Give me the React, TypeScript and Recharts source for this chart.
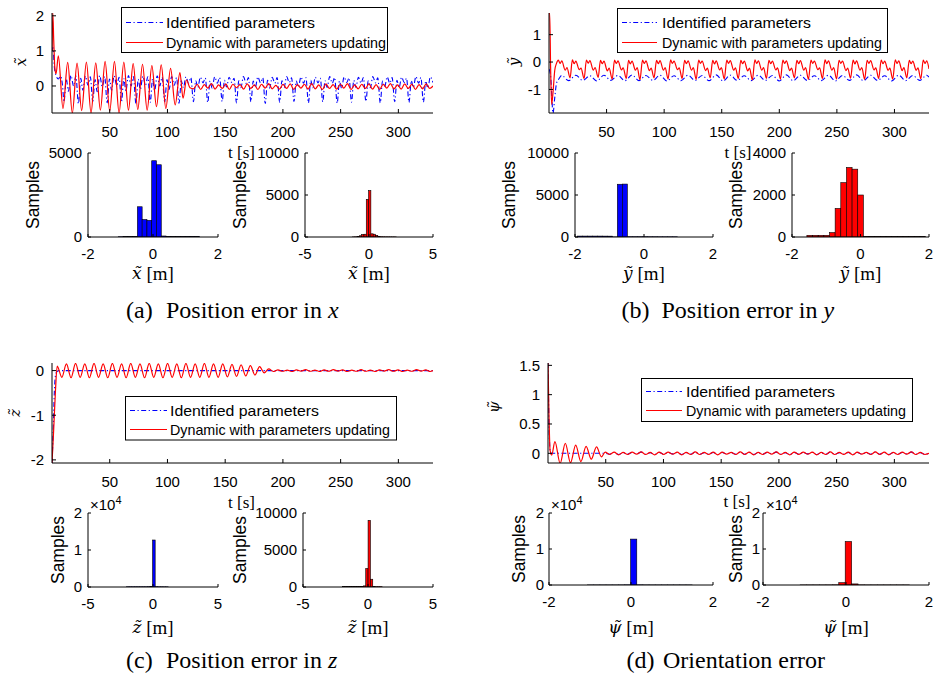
import React from "react";
import { Bar, ComposedChart, Line, LineChart, XAxis, YAxis } from "recharts";

type Pt = [number, number];

// ---- time axis ----
const T_TICKS = [50, 100, 150, 200, 250, 300];

// ---- (a) position error in x ----
const aRed: Pt[] = [
  [0, 1.0], [0.7, 2.08], [1.5, 1.3], [2.5, 0.5], [3.5, 0.35],
  [5.5, 0.86], [9.5, -0.64], [13.6, 0.67], [17.6, -0.77], [21.7, 0.65], [25.7, -0.7],
  [29.8, 0.68], [33.8, -0.77], [37.9, 0.66], [41.9, -0.69], [46.0, 0.7], [50.0, -0.72],
  [54.1, 0.7], [58.1, -0.77], [62.2, 0.68], [66.2, -0.69], [70.3, 0.64], [74.3, -0.67],
  [78.4, 0.62], [82.4, -0.69], [86.5, 0.58], [90.5, -0.59], [94.6, 0.6], [98.6, -0.64],
  [102.7, 0.5], [106.7, -0.54], [110.8, 0.38], [113.5, -0.35], [116.5, 0.17], [119.5, -0.05],
  [122.6, -0.08], [125.7, 0.05], [128.8, -0.1], [131.9, 0.04], [135.0, -0.06], [138.1, 0.07],
  [141.2, -0.09], [144.3, 0.03], [147.4, -0.07], [150.5, 0.06], [153.6, -0.1], [156.7, 0.05],
  [159.8, -0.05], [162.9, 0.04], [166.0, -0.09], [169.1, 0.06], [172.2, -0.07], [175.3, 0.03],
  [178.4, -0.1], [181.5, 0.05], [184.6, -0.06], [187.7, 0.07], [190.8, -0.08], [193.9, 0.02],
  [197.0, -0.09], [200.1, 0.05], [203.2, -0.07], [206.3, 0.06], [209.4, -0.1], [212.5, 0.04],
  [215.6, -0.06], [218.7, 0.05], [221.8, -0.09], [224.9, 0.07], [228.0, -0.08], [231.1, 0.03],
  [234.2, -0.1], [237.3, 0.06], [240.4, -0.07], [243.5, 0.04], [246.6, -0.09], [249.7, 0.05],
  [252.8, -0.06], [255.9, 0.07], [259.0, -0.1], [262.1, 0.03], [265.2, -0.08], [268.3, 0.05],
  [271.4, -0.07], [274.5, 0.06], [277.6, -0.09], [280.7, 0.04], [283.8, -0.1], [286.9, 0.05],
  [290.0, -0.06], [293.1, 0.07], [296.2, -0.08], [299.3, 0.03], [302.4, -0.09], [305.5, 0.06],
  [308.6, -0.07], [311.7, 0.05], [314.8, -0.1], [317.9, 0.04], [321.0, -0.08], [324.1, 0.06],
  [327.2, -0.07], [330, 0.0],
];

const aBlue: Pt[] = [
  [0, 1.0], [0.8, 1.1], [2, 0.55], [3.5, 0.3], [5.5, 0.2], [7.5, 0.28], [9, 0.05],
  [10.4, -0.45], [12.4, 0.2], [14.2, -0.15], [16.4, 0.3], [18.7, 0.0], [20.7, 0.28],
  [22.9, -0.5], [24.9, 0.22], [26.7, -0.12], [28.9, 0.28], [31.2, 0.02], [33.2, 0.26],
  [35.3, -0.44], [37.3, 0.18], [39.1, -0.16], [41.3, 0.3], [43.6, -0.02], [45.6, 0.27],
  [47.8, -0.48], [49.8, 0.2], [51.6, -0.12], [53.8, 0.29], [56.1, 0.01], [58.1, 0.25],
  [60.2, -0.46], [62.2, 0.21], [64.0, -0.14], [66.2, 0.3], [68.5, 0.0], [70.5, 0.27],
  [72.7, -0.5], [74.7, 0.19], [76.5, -0.1], [78.7, 0.28], [81.0, 0.03], [83.0, 0.26],
  [85.1, -0.47], [87.1, 0.2], [88.9, -0.13], [91.1, 0.29], [93.4, 0.0], [95.4, 0.25],
  [97.6, -0.45], [99.6, 0.18], [101.4, -0.1], [103.6, 0.27], [105.9, 0.02], [107.9, 0.24],
  [110.0, -0.49], [112.0, 0.15], [113.8, -0.05], [116.0, 0.26], [118.3, 0.08], [120.3, 0.24],
  [122.5, -0.45], [124.5, 0.15], [126.3, -0.04], [128.5, 0.25], [130.8, 0.09], [132.8, 0.23],
  [134.9, -0.47], [136.9, 0.14], [138.7, -0.06], [140.9, 0.26], [143.2, 0.08], [145.2, 0.24],
  [147.4, -0.44], [149.4, 0.16], [151.2, -0.03], [153.4, 0.25], [155.7, 0.1], [157.7, 0.22],
  [159.8, -0.48], [161.8, 0.15], [163.6, -0.05], [165.8, 0.27], [168.1, 0.08], [170.1, 0.24],
  [172.3, -0.45], [174.3, 0.14], [176.1, -0.04], [178.3, 0.26], [180.6, 0.09], [182.6, 0.23],
  [184.7, -0.5], [186.7, 0.16], [188.5, -0.06], [190.7, 0.25], [193.0, 0.08], [195.0, 0.24],
  [197.2, -0.46], [199.2, 0.15], [201.0, -0.05], [203.2, 0.27], [205.5, 0.1], [207.5, 0.23],
  [209.6, -0.44], [211.6, 0.14], [213.4, -0.03], [215.6, 0.26], [217.9, 0.08], [219.9, 0.24],
  [222.1, -0.48], [224.1, 0.16], [225.9, -0.05], [228.1, 0.25], [230.4, 0.09], [232.4, 0.22],
  [234.5, -0.45], [236.5, 0.15], [238.3, -0.04], [240.5, 0.27], [242.8, 0.08], [244.8, 0.24],
  [247.0, -0.49], [249.0, 0.14], [250.8, -0.06], [253.0, 0.26], [255.3, 0.1], [257.3, 0.23],
  [259.4, -0.46], [261.4, 0.16], [263.2, -0.04], [265.4, 0.25], [267.7, 0.08], [269.7, 0.24],
  [271.9, -0.44], [273.9, 0.15], [275.7, -0.05], [277.9, 0.27], [280.2, 0.09], [282.2, 0.23],
  [284.3, -0.48], [286.3, 0.14], [288.1, -0.03], [290.3, 0.26], [292.6, 0.08], [294.6, 0.24],
  [296.8, -0.45], [298.8, 0.16], [300.6, -0.05], [302.8, 0.25], [305.1, 0.1], [307.1, 0.22],
  [309.2, -0.47], [311.2, 0.15], [313.0, -0.04], [315.2, 0.27], [317.5, 0.08], [319.5, 0.24],
  [321.7, -0.46], [323.7, 0.14], [325.5, -0.06], [327.7, 0.26], [330, 0.1],
];

// ---- (b) position error in y ----
const bRed: Pt[] = [
  [0, 1.79], [0.6, 1.79], [1.4, -0.2], [2.3, -1.55], [3.5, -1.1], [5, -0.3], [6.5, -0.05],
  [8.1, 0.07], [9.6, -0.05], [11.1, 0.04], [14.1, -0.3], [15.6, -0.2], [18.3, -0.58],
  [20.3, 0.08], [21.8, -0.06], [23.3, 0.03], [26.3, -0.28], [27.8, -0.22], [30.5, -0.6],
  [32.5, 0.07], [34.0, -0.04], [35.5, 0.05], [38.5, -0.3], [40.0, -0.2], [42.7, -0.56],
  [44.7, 0.06], [46.2, -0.06], [47.7, 0.03], [50.7, -0.32], [52.2, -0.22], [54.9, -0.62],
  [56.9, 0.07], [58.4, -0.05], [59.9, 0.04], [62.9, -0.29], [64.4, -0.21], [67.1, -0.6],
  [69.1, 0.06], [70.6, -0.07], [72.1, 0.03], [75.1, -0.3], [76.6, -0.2], [79.0, -0.64],
  [81.2, 0.07], [82.7, -0.05], [84.2, 0.04], [87.2, -0.31], [88.7, -0.22], [91.2, -0.58],
  [93.4, 0.06], [94.9, -0.06], [96.4, 0.05], [99.4, -0.3], [100.9, -0.2], [103.4, -0.62],
  [105.6, 0.08], [107.1, -0.05], [108.6, 0.03], [111.6, -0.28], [113.1, -0.21], [115.6, -0.6],
  [117.8, 0.06], [119.3, -0.06], [120.8, 0.04], [123.8, -0.3], [125.3, -0.2], [127.8, -0.63],
  [130.0, 0.07], [131.5, -0.05], [133.0, 0.03], [136.0, -0.31], [137.5, -0.22], [140.0, -0.58],
  [142.2, 0.06], [143.7, -0.07], [145.2, 0.04], [148.2, -0.29], [149.7, -0.2], [152.2, -0.62],
  [154.4, 0.07], [155.9, -0.05], [157.4, 0.05], [160.4, -0.3], [161.9, -0.21], [164.4, -0.6],
  [166.6, 0.06], [168.1, -0.06], [169.6, 0.03], [172.6, -0.32], [174.1, -0.22], [176.6, -0.65],
  [178.8, 0.08], [180.3, -0.05], [181.8, 0.04], [184.8, -0.3], [186.3, -0.2], [188.8, -0.6],
  [191.0, 0.06], [192.5, -0.06], [194.0, 0.03], [197.0, -0.29], [198.5, -0.21], [201.0, -0.62],
  [203.1, 0.07], [204.6, -0.05], [206.1, 0.04], [209.1, -0.31], [210.6, -0.22], [213.1, -0.58],
  [215.3, 0.06], [216.8, -0.06], [218.3, 0.05], [221.3, -0.3], [222.8, -0.2], [225.3, -0.63],
  [227.5, 0.07], [229.0, -0.05], [230.5, 0.03], [233.5, -0.28], [235.0, -0.21], [237.5, -0.6],
  [239.7, 0.08], [241.2, -0.06], [242.7, 0.04], [245.7, -0.3], [247.2, -0.2], [249.7, -0.62],
  [251.9, 0.06], [253.4, -0.05], [254.9, 0.03], [257.9, -0.31], [259.4, -0.22], [261.9, -0.59],
  [264.1, 0.07], [265.6, -0.07], [267.1, 0.04], [270.1, -0.3], [271.6, -0.2], [274.1, -0.63],
  [276.3, 0.06], [277.8, -0.05], [279.3, 0.05], [282.3, -0.29], [283.8, -0.21], [286.3, -0.6],
  [288.5, 0.07], [290.0, -0.06], [291.5, 0.03], [294.5, -0.3], [296.0, -0.22], [298.5, -0.62],
  [300.7, 0.08], [302.2, -0.05], [303.7, 0.04], [306.7, -0.31], [308.2, -0.2], [310.7, -0.58],
  [312.9, 0.06], [314.4, -0.06], [315.9, 0.03], [318.9, -0.3], [320.4, -0.21], [322.9, -0.61],
  [325.0, 0.07], [326.5, -0.05], [328.0, 0.04], [330, -0.25],
];

const bBlue: Pt[] = [
  [0, -0.25], [1.5, -0.55], [3.5, -1.86], [5, -1.3], [6.5, -0.78], [8.5, -0.62],
  [11.1, -0.49], [17.1, -0.68], [23.3, -0.48], [29.3, -0.67], [35.5, -0.5], [41.5, -0.69],
  [47.7, -0.48], [53.7, -0.67], [59.9, -0.49], [65.9, -0.68], [72.1, -0.47], [78.1, -0.68],
  [84.2, -0.49], [90.2, -0.67], [96.4, -0.48], [102.4, -0.69], [108.6, -0.5], [114.6, -0.68],
  [120.8, -0.48], [126.8, -0.67], [133.0, -0.49], [139.0, -0.68], [145.2, -0.47], [151.2, -0.69],
  [157.4, -0.48], [163.4, -0.67], [169.6, -0.5], [175.6, -0.68], [181.8, -0.48], [187.8, -0.67],
  [194.0, -0.49], [200.0, -0.69], [206.1, -0.47], [212.1, -0.68], [218.3, -0.48], [224.3, -0.67],
  [230.5, -0.5], [236.5, -0.68], [242.7, -0.48], [248.7, -0.69], [254.9, -0.49], [260.9, -0.67],
  [267.1, -0.47], [273.1, -0.68], [279.3, -0.48], [285.3, -0.67], [291.5, -0.5], [297.5, -0.69],
  [303.7, -0.48], [309.7, -0.68], [315.9, -0.49], [321.9, -0.67], [328.0, -0.48], [330, -0.55],
];

// ---- (c) position error in z ----
const cRed: Pt[] = [
  [0, -2.07], [1.5, -1.3], [3, -0.45], [4.5, 0.1],
  [8.5, -0.15], [12.5, 0.15], [16.5, -0.16], [20.4, 0.16], [24.4, -0.15], [28.4, 0.15],
  [32.4, -0.16], [36.4, 0.16], [40.3, -0.15], [44.3, 0.15], [48.3, -0.16], [52.3, 0.16],
  [56.3, -0.15], [60.3, 0.15], [64.2, -0.16], [68.2, 0.16], [72.2, -0.15], [76.2, 0.15],
  [80.2, -0.16], [84.2, 0.16], [88.1, -0.15], [92.1, 0.15], [96.1, -0.16], [100.1, 0.16],
  [104.1, -0.15], [108.1, 0.15], [112.0, -0.16], [116.0, 0.16], [120.0, -0.15], [124.0, 0.15],
  [128.0, -0.15], [132.0, 0.16], [135.9, -0.15], [139.9, 0.15], [143.9, -0.15], [147.9, 0.15],
  [151.9, -0.14], [155.9, 0.14], [159.8, -0.13], [163.8, 0.13], [167.8, -0.12], [171.8, 0.11],
  [175.8, -0.1], [179.8, 0.09], [183.8, -0.05], [187.7, 0.04], [191.7, -0.02],
  [195.7, 0.015], [199.7, -0.015], [203.7, 0.01], [207.7, -0.02], [211.7, 0.015], [215.7, -0.01],
  [219.7, 0.02], [223.7, -0.015], [227.7, 0.01], [231.7, -0.02], [235.7, 0.015], [239.7, -0.015],
  [243.7, 0.02], [247.7, -0.01], [251.7, 0.015], [255.7, -0.02], [259.7, 0.01], [263.7, -0.015],
  [267.7, 0.02], [271.7, -0.015], [275.7, 0.01], [279.7, -0.02], [283.7, 0.015], [287.7, -0.01],
  [291.7, 0.02], [295.7, -0.015], [299.7, 0.015], [303.7, -0.02], [307.7, 0.01], [311.7, -0.015],
  [315.7, 0.02], [319.7, -0.01], [323.7, 0.015], [327.7, -0.02], [330, 0.0],
];

const cBlue: Pt[] = [
  [0, -2.07], [1, -1.4], [2, -0.5], [2.8, -0.15], [4, -0.03], [6, 0], [330, 0],
];

// ---- (d) orientation error ----
const dRedHead: Pt[] = [
  [0, 1.54], [0.8, 0.7], [1.8, 0.05], [3.2, -0.03], [6, 0.2], [10.5, -0.17], [15, 0.17],
  [19.5, -0.16], [24, 0.14], [28.5, -0.14], [33, 0.12], [37.5, -0.1], [42, 0.11],
  [46.3, -0.06], [49.5, 0.02],
];
const dBlueHead: Pt[] = [[0, 1.54], [1, 0.4], [2, 0.02], [3, 0.0], [49.5, 0.0]];
const dTailT = [
  53.4, 57.3, 61.2, 65.1, 69.0, 72.9,
  76.8, 80.7, 84.6, 88.5, 92.4, 96.3,
  100.2, 104.1, 108.0, 111.9, 115.8, 119.7,
  123.6, 127.5, 131.4, 135.3, 139.2, 143.1,
  147.0, 150.9, 154.8, 158.7, 162.6, 166.5,
  170.4, 174.3, 178.2, 182.1, 186.0, 189.9,
  193.8, 197.7, 201.6, 205.5, 209.4, 213.3,
  217.2, 221.1, 225.0, 228.9, 232.8, 236.7,
  240.6, 244.5, 248.4, 252.3, 256.2, 260.1,
  264.0, 267.9, 271.8, 275.7, 279.6, 283.5,
  287.4, 291.3, 295.2, 299.1, 303.0, 306.9,
  310.8, 314.7, 318.6, 322.5, 326.4, 330.0,
];
const dRedTailV = [
  -0.02, 0.02, -0.025, 0.015, -0.02, 0.02,
  -0.015, 0.025, -0.02, 0.015, -0.025, 0.02,
  -0.02, 0.02, -0.015, 0.02, -0.025, 0.015,
  -0.02, 0.025, -0.02, 0.015, -0.02, 0.02,
  -0.025, 0.02, -0.015, 0.015, -0.02, 0.025,
  -0.02, 0.02, -0.025, 0.015, -0.02, 0.02,
  -0.015, 0.025, -0.02, 0.015, -0.025, 0.02,
  -0.02, 0.02, -0.015, 0.02, -0.025, 0.015,
  -0.02, 0.025, -0.02, 0.015, -0.02, 0.02,
  -0.025, 0.02, -0.015, 0.015, -0.02, 0.025,
  -0.02, 0.02, -0.025, 0.015, -0.02, 0.02,
  -0.015, 0.025, -0.02, 0.015, -0.02, 0.0,
];
const dBlueTailV = [
  -0.015, 0.015, -0.02, 0.01, -0.015, 0.015,
  -0.01, 0.02, -0.015, 0.01, -0.02, 0.015,
  -0.015, 0.015, -0.01, 0.015, -0.02, 0.01,
  -0.015, 0.02, -0.015, 0.01, -0.015, 0.015,
  -0.02, 0.015, -0.01, 0.01, -0.015, 0.02,
  -0.015, 0.015, -0.02, 0.01, -0.015, 0.015,
  -0.01, 0.02, -0.015, 0.01, -0.02, 0.015,
  -0.015, 0.015, -0.01, 0.015, -0.02, 0.01,
  -0.015, 0.02, -0.015, 0.01, -0.015, 0.015,
  -0.02, 0.015, -0.01, 0.01, -0.015, 0.02,
  -0.015, 0.015, -0.02, 0.01, -0.015, 0.015,
  -0.01, 0.02, -0.015, 0.01, -0.015, 0.0,
];

// ---- histograms: bin centres and sample counts ----
const aHistBlueX = [-0.998, -0.851, -0.704, -0.557, -0.41, -0.263, -0.116, 0.031, 0.178, 0.325, 0.472, 0.619, 0.766, 0.913, 1.06, 1.207, 1.354];
const aHistBlueN = [15, 18, 20, 22, 1800, 1040, 990, 4540, 4300, 60, 30, 25, 25, 30, 35, 35, 30];
const aHistRedX = [-1.21, -1.03, -0.85, -0.67, -0.49, -0.31, -0.13, 0.05, 0.23, 0.41, 0.59, 0.77, 0.95, 1.13, 1.31, 1.49, 1.67, 1.85, 2.03];
const aHistRedN = [10, 20, 60, 150, 300, 330, 4480, 5520, 380, 330, 200, 60, 30, 20, 15, 15, 10, 10, 10];

const bHistBlueX = [-1.86, -1.715, -1.57, -1.425, -1.28, -1.135, -0.99, -0.845, -0.7, -0.555, -0.41, -0.265, -0.12, 0.025, 0.17, 0.315, 0.46, 0.605, 0.75, 0.895];
const bHistBlueN = [110, 110, 110, 110, 110, 105, 100, 5, 6280, 6300, 30, 30, 30, 30, 25, 25, 20, 20, 20, 20];
const bHistRedX = [-1.49, -1.325, -1.16, -0.995, -0.83, -0.665, -0.5, -0.335, -0.17, -0.005, 0.16, 0.325, 0.49, 0.655, 0.82, 0.985, 1.15, 1.315, 1.48, 1.645, 1.81];
const bHistRedN = [80, 80, 80, 80, 210, 1360, 2590, 3310, 3230, 2000, 20, 20, 20, 15, 15, 15, 15, 15, 15, 15, 15];

const cHistBlueX = [-1.93, -1.73, -1.53, -1.33, -1.13, -0.93, -0.73, -0.53, -0.33, -0.13, 0.07, 0.27, 0.47, 0.67, 0.87, 1.07];
const cHistBlueN = [60, 60, 60, 60, 60, 60, 60, 60, 80, 150, 12700, 80, 50, 50, 40, 40];
const cHistRedX = [-1.89, -1.71, -1.53, -1.35, -1.17, -0.99, -0.81, -0.63, -0.45, -0.27, -0.09, 0.09, 0.27, 0.45, 0.63, 0.81, 0.99];
const cHistRedN = [50, 50, 50, 50, 50, 50, 50, 60, 80, 150, 2500, 9000, 1050, 60, 40, 40, 40];

const dHistBlueX = [-0.985, -0.835, -0.685, -0.535, -0.385, -0.235, -0.085, 0.065, 0.215, 0.365, 0.515, 0.665, 0.815, 0.965, 1.115, 1.265, 1.415];
const dHistBlueN = [15, 15, 15, 15, 15, 20, 40, 12750, 40, 20, 15, 15, 15, 15, 15, 15, 15];
const dHistRedX = [-1.025, -0.87, -0.715, -0.56, -0.405, -0.25, -0.095, 0.06, 0.215, 0.37, 0.525, 0.68, 0.835, 0.99, 1.145, 1.3, 1.455];
const dHistRedN = [15, 15, 15, 15, 20, 40, 640, 12080, 300, 30, 15, 15, 15, 15, 15, 15, 15];

const LEGEND_LABELS = ["Identified parameters", "Dynamic with parameters updating"];

const SANS = "'Liberation Sans', Arial, Helvetica, sans-serif";
const SERIF = "'Liberation Serif', 'Times New Roman', serif";
const MATH = "'DejaVu Serif', 'Liberation Serif', serif";
const INK = "#000";
const BLUE = "#0000ff";
const RED = "#ff0000";
const TICK = { fontSize: 15, fill: INK, fontFamily: SANS };
const DASHDOT = "5 2.5 1.2 2.5";

const zip = (ts: number[], vs: number[]): Pt[] => ts.map((t, i) => [t, vs[i]] as Pt);
const toRows = (pts: Pt[]) => pts.map(([t, v]) => ({ t, v }));

const dRed = [...dRedHead, ...zip(dTailT, dRedTailV)];
const dBlue = [...dBlueHead, ...zip(dTailT, dBlueTailV)];

type TimeProps = {
  l: number; t: number; w: number; h: number;
  yDomain: [number, number]; yTicks: number[];
  blue: Pt[]; red: Pt[];
};

function TimePlot({ l, t, w, h, yDomain, yTicks, blue, red }: TimeProps) {
  const YW = 50, M = 10, XH = 30;
  return (
    <div style={{ position: "absolute", left: l - YW, top: t - M }}>
      <LineChart width={w + YW + M} height={h + M + XH} margin={{ top: M, right: M, bottom: 0, left: 0 }}>
        <XAxis xAxisId="b" type="number" dataKey="t" domain={[0, 330]} ticks={T_TICKS} interval={0}
          allowDataOverflow height={XH} stroke={INK} tickSize={-4} tickMargin={17} tick={TICK} />
        <XAxis xAxisId="top" orientation="top" type="number" dataKey="t" domain={[0, 330]} ticks={T_TICKS}
          interval={0} allowDataOverflow height={0} stroke={INK} tickSize={-4} tick={false} />
        <YAxis yAxisId="l" type="number" domain={yDomain} ticks={yTicks} interval={0} allowDataOverflow
          width={YW} stroke={INK} tickSize={-4} tickMargin={12} tick={TICK} />
        <YAxis yAxisId="r" orientation="right" type="number" domain={yDomain} ticks={yTicks} interval={0}
          allowDataOverflow width={0} stroke={INK} tickSize={-4} tick={false} />
        <Line xAxisId="b" yAxisId="l" data={toRows(blue)} dataKey="v" type="monotone" stroke={BLUE}
          strokeWidth={1.1} strokeDasharray={DASHDOT} dot={false} activeDot={false} isAnimationActive={false} />
        <Line xAxisId="b" yAxisId="l" data={toRows(red)} dataKey="v" type="monotone" stroke={RED}
          strokeWidth={1.2} dot={false} activeDot={false} isAnimationActive={false} />
      </LineChart>
    </div>
  );
}

type HistProps = {
  l: number; t: number; w: number; h: number;
  xDomain: [number, number]; xTicks: number[];
  yMax: number; yTicks: number[]; sci?: boolean; gap?: number;
  centers: number[]; counts: number[]; binW: number; fill: string;
};

function Hist({ l, t, w, h, xDomain, xTicks, yMax, yTicks, sci, gap = 9, centers, counts, binW, fill }: HistProps) {
  const YW = 70, M = 12, XH = 30;
  const data = centers.map((x, i) => ({ x, n: counts[i] }));
  const barPx = (binW * w) / (xDomain[1] - xDomain[0]);
  const shape = (p: any) => {
    const cx = p.x + p.width / 2;
    return (
      <rect x={cx - barPx / 2} y={p.y} width={barPx} height={Math.max(0, p.height)}
        fill={fill} stroke={INK} strokeWidth={0.6} />
    );
  };
  return (
    <div style={{ position: "absolute", left: l - YW, top: t - M }}>
      <ComposedChart width={w + YW + M} height={h + M + XH} data={data} margin={{ top: M, right: M, bottom: 0, left: 0 }}>
        <XAxis xAxisId="b" type="number" dataKey="x" domain={xDomain} ticks={xTicks} interval={0}
          allowDataOverflow height={XH} stroke={INK} tickSize={-3} tickMargin={14} tick={TICK} />
        <XAxis xAxisId="top" orientation="top" type="number" dataKey="x" domain={xDomain} ticks={xTicks}
          interval={0} allowDataOverflow height={0} stroke={INK} tickSize={-3} tick={false} />
        <YAxis yAxisId="l" type="number" domain={[0, yMax]} ticks={yTicks} interval={0} allowDataOverflow
          width={YW} stroke={INK} tickSize={-3} tickMargin={gap} tick={TICK}
          tickFormatter={sci ? (v: number) => String(v / 10000) : undefined} />
        <YAxis yAxisId="r" orientation="right" type="number" domain={[0, yMax]} ticks={yTicks} interval={0}
          allowDataOverflow width={0} stroke={INK} tickSize={-3} tick={false} />
        <Bar xAxisId="b" yAxisId="l" dataKey="n" fill={fill} shape={shape} isAnimationActive={false} />
      </ComposedChart>
    </div>
  );
}

const LEGENDS = [
  { x: 121.5, y: 7.5, w: 266, h: 45, r1: 22.5, r2: 42.5, s0: 126, s1: 163, tx: 166 },
  { x: 617.5, y: 8.5, w: 270, h: 44, r1: 22.5, r2: 42.5, s0: 622, s1: 657, tx: 662 },
  { x: 125.5, y: 396.5, w: 271, h: 43.5, r1: 410.5, r2: 429.5, s0: 130, s1: 167, tx: 170 },
  { x: 641.5, y: 378.5, w: 271, h: 43, r1: 391.5, r2: 410.5, s0: 646, s1: 682, tx: 686 },
];

function Rot({ x, y, children, size, family, italic }: any) {
  return (
    <text x={x} y={y} transform={`rotate(-90 ${x} ${y})`} textAnchor="middle" dominantBaseline="central"
      fontSize={size} fontFamily={family} fontStyle={italic ? "italic" : "normal"} fill={INK}>
      {children}
    </text>
  );
}

function XLabel({ x, y, sym }: { x: number; y: number; sym: string }) {
  return (
    <text x={x} y={y} textAnchor="middle" dominantBaseline="central" fontSize={19} fontFamily={SERIF} fill={INK}>
      <tspan fontStyle="italic" fontFamily={MATH} fontSize={17}>{sym}</tspan> [m]
    </text>
  );
}

function Sci({ x, y }: { x: number; y: number }) {
  return (
    <text x={x} y={y} fontSize={15} fontFamily={SANS} fill={INK}>
      ×10<tspan fontSize={11} dy={-6}>4</tspan>
    </text>
  );
}

function Caption({ x0, x1, y, tag, text, math }: { x0: number; x1: number; y: number; tag: string; text: string; math?: string }) {
  return (
    <g fontFamily={SERIF} fontSize={24} fill={INK}>
      <text x={x0} y={y}>{tag}</text>
      <text x={x1} y={y}>
        {text}
        {math ? <tspan fontStyle="italic">{math}</tspan> : null}
      </text>
    </g>
  );
}

function Overlay() {
  return (
    <svg width={941} height={678} style={{ position: "absolute", left: 0, top: 0, pointerEvents: "none" }}>
      {LEGENDS.map((g, i) => (
        <g key={i}>
          <rect x={g.x} y={g.y} width={g.w} height={g.h} fill="#fff" stroke={INK} strokeWidth={1} />
          <line x1={g.s0} x2={g.s1} y1={g.r1} y2={g.r1} stroke={BLUE} strokeWidth={1} strokeDasharray={DASHDOT} />
          <line x1={g.s0} x2={g.s1} y1={g.r2} y2={g.r2} stroke={RED} strokeWidth={1} />
          <text x={g.tx} y={g.r1} dominantBaseline="central" fontSize={15} fontFamily={SANS} fill={INK}
            textLength={149} lengthAdjust="spacingAndGlyphs">{LEGEND_LABELS[0]}</text>
          <text x={g.tx} y={g.r2} dominantBaseline="central" fontSize={15} fontFamily={SANS} fill={INK}
            textLength={220} lengthAdjust="spacingAndGlyphs">{LEGEND_LABELS[1]}</text>
        </g>
      ))}

      <Rot x={21} y={62} size={15} family={MATH} italic>{"x\u0303"}</Rot>
      <Rot x={514} y={62} size={15} family={MATH} italic>{"y\u0303"}</Rot>
      <Rot x={15} y={413} size={15} family={MATH} italic>{"z\u0303"}</Rot>
      <Rot x={494} y={407} size={15} family={MATH} italic>{"\u03c8\u0303"}</Rot>

      {[[241.5, 152], [738, 152], [241.5, 502], [737, 501.5]].map(([x, y], i) => (
        <text key={i} x={x} y={y} textAnchor="middle" dominantBaseline="central" fontSize={17} fontFamily={SERIF} fill={INK}>
          t [s]
        </text>
      ))}

      {[[33, 195], [240, 195], [509, 195], [735.5, 195], [57.5, 550], [240, 550], [519, 549], [735.5, 549]].map(([x, y], i) => (
        <Rot key={i} x={x} y={y} size={17.5} family={SANS}>Samples</Rot>
      ))}

      <XLabel x={153} y={273} sym={"x\u0303"} />
      <XLabel x={369} y={273} sym={"x\u0303"} />
      <XLabel x={644} y={273} sym={"y\u0303"} />
      <XLabel x={860.5} y={273} sym={"y\u0303"} />
      <XLabel x={153} y={627} sym={"z\u0303"} />
      <XLabel x={368} y={627} sym={"z\u0303"} />
      <XLabel x={631} y={627} sym={"\u03c8\u0303"} />
      <XLabel x={846} y={627} sym={"\u03c8\u0303"} />

      <Sci x={90} y={510} />
      <Sci x={551} y={510} />
      <Sci x={766} y={510} />

      <Caption x0={126} x1={166} y={318} tag="(a)" text="Position error in " math="x" />
      <Caption x0={621.5} x1={661.5} y={318} tag="(b)" text="Position error in " math="y" />
      <Caption x0={126} x1={166} y={668} tag="(c)" text="Position error in " math="z" />
      <Caption x0={626.5} x1={663} y={668} tag="(d)" text="Orientation error" />
    </svg>
  );
}

export default function App() {
  return (
    <div style={{ position: "absolute", left: 0, top: 0, width: 941, height: 678, background: "#fff", overflow: "hidden" }}>
      <TimePlot l={52} t={13} w={381} h={100} yDomain={[-0.77, 2.08]} yTicks={[0, 1, 2]} blue={aBlue} red={aRed} />
      <TimePlot l={549} t={13} w={380} h={100} yDomain={[-1.86, 1.79]} yTicks={[-1, 0, 1]} blue={bBlue} red={bRed} />
      <TimePlot l={52} t={363} w={381} h={100} yDomain={[-2.07, 0.17]} yTicks={[-2, -1, 0]} blue={cBlue} red={cRed} />
      <TimePlot l={548} t={363} w={381} h={100} yDomain={[-0.165, 1.54]} yTicks={[0, 0.5, 1, 1.5]} blue={dBlue} red={dRed} />

      <Hist l={88} t={153} w={130} h={84} xDomain={[-2, 2]} xTicks={[-2, 0, 2]} yMax={5000} yTicks={[0, 5000]}
        centers={aHistBlueX} counts={aHistBlueN} binW={0.147} fill={BLUE} />
      <Hist l={305} t={153} w={128} h={84} xDomain={[-5, 5]} xTicks={[-5, 0, 5]} yMax={10000} yTicks={[0, 5000, 10000]}
        centers={aHistRedX} counts={aHistRedN} binW={0.18} fill={RED} />
      <Hist l={575} t={153} w={138} h={84} xDomain={[-2, 2]} xTicks={[-2, 0, 2]} yMax={10000} yTicks={[0, 5000, 10000]}
        centers={bHistBlueX} counts={bHistBlueN} binW={0.145} fill={BLUE} />
      <Hist l={792} t={153} w={137} h={84} xDomain={[-2, 2]} xTicks={[-2, 0, 2]} yMax={4000} yTicks={[0, 2000, 4000]}
        centers={bHistRedX} counts={bHistRedN} binW={0.165} fill={RED} />
      <Hist l={88} t={513} w={130} h={74} xDomain={[-5, 5]} xTicks={[-5, 0, 5]} yMax={20000} yTicks={[0, 10000, 20000]} sci
        centers={cHistBlueX} counts={cHistBlueN} binW={0.2} fill={BLUE} />
      <Hist l={303} t={513} w={130} h={74} xDomain={[-5, 5]} xTicks={[-5, 0, 5]} yMax={10000} yTicks={[0, 5000, 10000]}
        centers={cHistRedX} counts={cHistRedN} binW={0.18} fill={RED} />
      <Hist l={549} t={513} w={164} h={72} xDomain={[-2, 2]} xTicks={[-2, 0, 2]} yMax={20000} yTicks={[0, 10000, 20000]} sci gap={8}
        centers={dHistBlueX} counts={dHistBlueN} binW={0.15} fill={BLUE} />
      <Hist l={763} t={513} w={166} h={72} xDomain={[-2, 2]} xTicks={[-2, 0, 2]} yMax={20000} yTicks={[0, 10000, 20000]} sci gap={6}
        centers={dHistRedX} counts={dHistRedN} binW={0.155} fill={RED} />

      <Overlay />
    </div>
  );
}
